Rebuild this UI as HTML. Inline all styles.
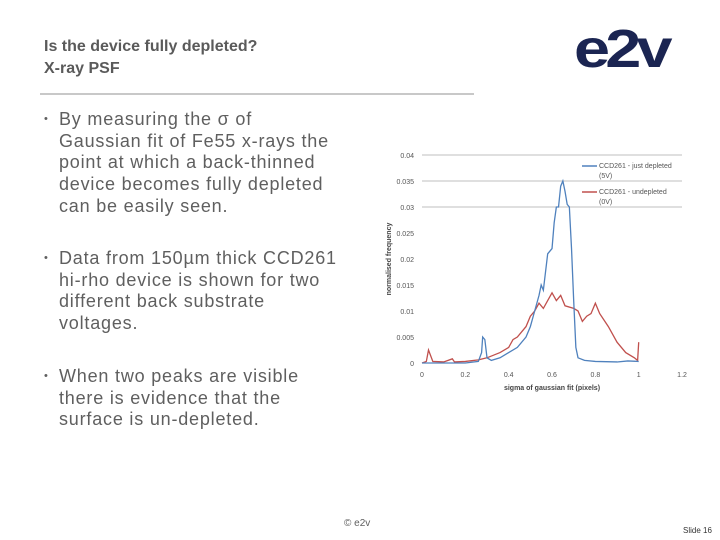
<!DOCTYPE html>
<html><head><meta charset="utf-8"><style>
body{margin:0;width:720px;height:540px;background:#fff;position:relative;overflow:hidden;font-family:"Liberation Sans",sans-serif;color:#5f5f5f}
.t{position:absolute;left:44px;top:36px;font-size:16px;font-weight:bold;line-height:22px;color:#5a5a5a}
.rule{position:absolute;left:40px;top:93px;width:434px;height:2px;background:#c8c8c8}
ul{position:absolute;left:44px;margin:0;padding:0;list-style:none;font-size:18px;letter-spacing:0.8px;line-height:21.7px;white-space:nowrap}
li{position:relative;padding-left:15px}
li:before{content:"•";position:absolute;left:0;top:0;font-size:11px}
.logo{position:absolute;left:574px;top:17px;font-size:54px;font-weight:bold;color:#1b2552;letter-spacing:-4px;line-height:64px;transform:scaleX(1.2);transform-origin:left}
</style></head><body>
<div class="t">Is the device fully depleted?<br>X-ray PSF</div>
<div class="rule"></div>
<div class="logo">e2v</div>
<ul style="top:109px"><li>By measuring the σ of<br>Gaussian fit of Fe55 x-rays the<br>point at which a back-thinned<br>device becomes fully depleted<br>can be easily seen.</li></ul>
<ul style="top:248px"><li>Data from 150µm thick CCD261<br>hi-rho device is shown for two<br>different back substrate<br>voltages.</li></ul>
<ul style="top:366px"><li>When two peaks are visible<br>there is evidence that the<br>surface is un-depleted.</li></ul>
<div style="position:absolute;left:344px;top:518px;font-size:10px">© e2v</div>
<div style="position:absolute;left:683px;top:526px;font-size:8px;color:#333">Slide 16</div>
<svg id="c" width="720" height="540" style="position:absolute;left:0;top:0"></svg>
<script>
const xTicks=[0,0.2,0.4,0.6,0.8,1,1.2];
const yTicks=[0,0.005,0.01,0.015,0.02,0.025,0.03,0.035,0.04];
const gridTicks=[0.03,0.035,0.04];
const blueX=[0,0.1,0.2,0.26,0.275,0.28,0.29,0.3,0.32,0.36,0.4,0.44,0.48,0.5,0.52,0.54,0.55,0.56,0.58,0.6,0.61,0.62,0.63,0.64,0.65,0.66,0.67,0.68,0.69,0.7,0.71,0.72,0.75,0.8,0.9,0.95,1.0];
const blueY=[0,0,0,0.0003,0.002,0.005,0.0045,0.001,0.0005,0.001,0.002,0.003,0.005,0.007,0.01,0.013,0.015,0.014,0.021,0.022,0.027,0.03,0.03,0.034,0.035,0.033,0.0305,0.03,0.022,0.012,0.003,0.001,0.0005,0.0003,0.0002,0.0004,0.0003];
const redX=[0,0.02,0.03,0.05,0.1,0.14,0.15,0.2,0.26,0.3,0.33,0.36,0.4,0.42,0.44,0.48,0.5,0.52,0.54,0.56,0.58,0.6,0.62,0.64,0.66,0.7,0.72,0.74,0.76,0.78,0.8,0.82,0.86,0.9,0.94,0.98,0.995,1.0];
const redY=[0,0.0003,0.0025,0.0003,0.0002,0.0008,0.0002,0.0003,0.0006,0.001,0.0015,0.002,0.003,0.0045,0.005,0.007,0.009,0.01,0.0115,0.0105,0.012,0.0135,0.012,0.013,0.011,0.0105,0.01,0.008,0.009,0.0095,0.0115,0.0095,0.007,0.004,0.002,0.001,0.0005,0.004];
const X=v=>422+v*216.7, Y=v=>363-v*5200;
const s=document.getElementById('c'),NS='http://www.w3.org/2000/svg';
function el(t,a,txt){const e=document.createElementNS(NS,t);for(const k in a)e.setAttribute(k,a[k]);if(txt!=null)e.textContent=txt;s.appendChild(e);return e;}
gridTicks.forEach(v=>{const g=el('line',{x1:422,x2:682,y1:Y(v),y2:Y(v),stroke:'#aaa','stroke-width':0.8});

});
yTicks.forEach(v=>{const t=el('text',{x:414,y:Y(v)+3,'font-size':7,'text-anchor':'end',fill:'#555'},String(v));

});
xTicks.forEach(v=>{const t=el('text',{x:X(v),y:377,'font-size':7,'text-anchor':'middle',fill:'#555'},String(v));

});
const xt=el('text',{x:552,y:390,'font-size':7,'font-weight':'bold','text-anchor':'middle',fill:'#444'},'sigma of gaussian fit (pixels)');


const yt=el('text',{x:0,y:0,'font-size':7,'font-weight':'bold','text-anchor':'middle',fill:'#444',transform:'translate(391,259) rotate(-90)'},'normalised frequency');


function line(xs,ys,c,n){const p=el('polyline',{points:xs.map((x,i)=>X(x)+','+Y(ys[i])).join(' '),fill:'none',stroke:c,'stroke-width':1.3});

}
line(redX,redY,'#c0504d','series-undepleted');
line(blueX,blueY,'#4f81bd','series-just-depleted');
[['#4f81bd','CCD261 - just depleted','(5V)',166],['#c0504d','CCD261 - undepleted','(0V)',192]].forEach(d=>{
const l=el('line',{x1:582,x2:597,y1:d[3],y2:d[3],stroke:d[0],'stroke-width':1.5});


const t=el('text',{x:599,y:d[3]+2,'font-size':7,fill:'#555'},d[1]);


const t2=el('text',{x:599,y:d[3]+12,'font-size':7,fill:'#555'},d[2]);

});
</script>
</body></html>
